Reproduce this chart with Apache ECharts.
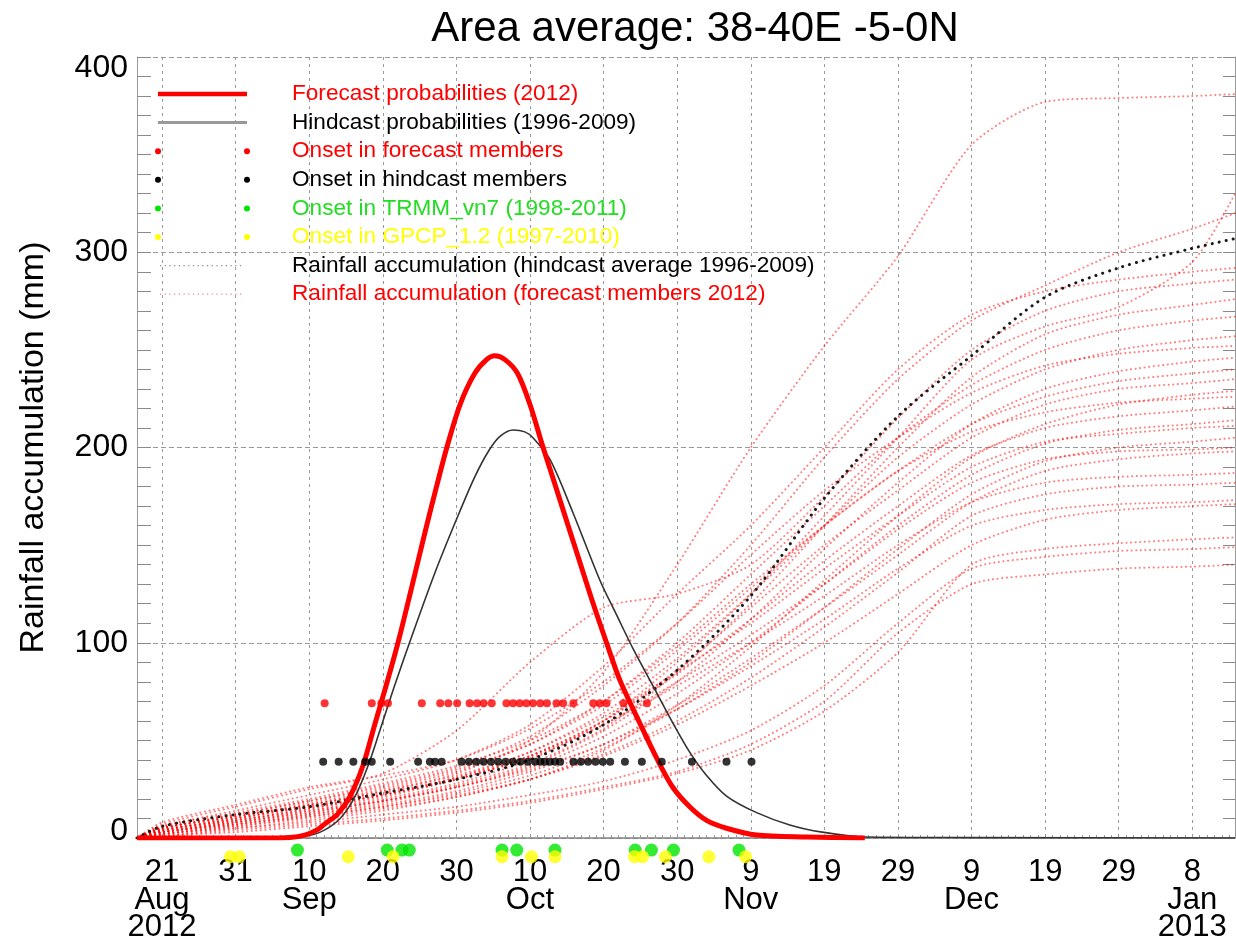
<!DOCTYPE html>
<html>
<head>
<meta charset="utf-8">
<script src="https://cdn.jsdelivr.net/npm/echarts@6/dist/echarts.min.js"></script>
<style>
html,body{margin:0;padding:0;background:#fff;}
#chart{width:1236px;height:945px;}
</style>
</head>
<body>
<div id="chart"></div>
<script>
// ---------------- DATA (x = days since 2012-08-21) ----------------
const xMin = -3.4, xMax = 145.8;
const tickDays = [0, 10, 20, 30, 40, 50, 60, 70, 80, 90, 100, 110, 120, 130, 140];
const tickLabels = ['21\nAug\n2012', '31', '10\nSep', '20', '30', '10\nOct', '20', '30',
                    '9\nNov', '19', '29', '9\nDec', '19', '29', '8\nJan\n2013'];

const forecastProbDays = [-3.4, 13.3, 17.4, 19.4, 21.0, 22.4, 23.8, 25.5, 27.3, 28.9, 30.6, 32.2, 33.9, 35.7, 37.3, 38.7,
  40.5, 42.5, 44.1, 45.2, 46.6, 48.3, 50.0, 51.7, 53.4, 55.1, 56.8, 58.5, 60.4, 62.2, 64.9, 67.2, 69.4, 71.7, 74.0, 76.7, 80.8, 87.6, 95.5];
const forecastProbValues = [0, 0, 0.3, 1.5, 4, 8, 12, 21, 37, 58, 80, 102, 128, 156, 180, 200,
  222, 238, 245, 247, 245, 238, 222, 201, 181, 161, 141, 121, 100, 81, 59, 41, 26, 16, 9, 5, 1.5, 0.5, 0];

const hindcastProbDays = [-3.4, 16.0, 18.7, 21.5, 24.2, 26.2, 28.0, 29.6, 31.6, 34.1, 37.1, 40.1, 42.5, 44.5, 46.0, 47.7,
  49.3, 50.4, 52.7, 55.8, 59.5, 61.8, 64.0, 66.7, 69.4, 71.7, 74.0, 76.7, 80.8, 85.3, 89.7, 95.5, 110, 145.8];
const hindcastProbValues = [0, 0.2, 0.5, 3, 10, 21, 37, 55, 78, 105, 136, 164, 185, 199, 206, 209,
  208, 205, 194, 167, 132, 114, 97, 78, 59, 44, 32, 21.5, 13, 6.7, 3, 0.5, 0.2, 0];

const accumDays = [-3.4, 0, 10, 20, 30, 40, 50, 60, 70, 80, 90, 100, 110, 120, 130, 140, 145.8];
const hindcastAccum = [0, 6, 12, 16, 23, 30, 40, 58, 86, 124, 174, 216, 247, 277, 292, 302, 307];

const forecastMembers = [
  [0, 4, 10, 17, 24, 33, 50, 85, 140, 200, 252, 298, 355, 377, 379, 380, 381],
  [0, 3, 8, 14, 20, 28, 40, 60, 90, 125, 165, 205, 245, 262, 272, 295, 330],
  [0, 5, 12, 19, 27, 36, 52, 78, 110, 150, 195, 235, 265, 283, 300, 312, 320],
  [0, 6, 14, 22, 30, 40, 58, 88, 125, 160, 200, 240, 268, 280, 286, 290, 292],
  [0, 7, 16, 25, 33, 55, 90, 118, 125, 140, 175, 215, 250, 270, 280, 284, 286],
  [0, 3, 8, 13, 19, 27, 38, 56, 85, 120, 160, 200, 236, 258, 268, 273, 276],
  [0, 5, 11, 18, 25, 34, 48, 70, 100, 135, 170, 205, 232, 250, 260, 265, 267],
  [0, 4, 9, 15, 22, 31, 44, 64, 92, 125, 160, 195, 222, 240, 250, 255, 257],
  [0, 8, 17, 26, 32, 40, 56, 80, 110, 145, 178, 205, 228, 242, 248, 251, 252],
  [0, 2, 7, 12, 18, 26, 37, 55, 80, 112, 148, 182, 212, 230, 239, 244, 246],
  [0, 5, 12, 19, 26, 35, 48, 68, 96, 128, 160, 188, 212, 226, 234, 238, 240],
  [0, 3, 9, 15, 21, 30, 42, 60, 86, 118, 150, 178, 205, 222, 230, 233, 235],
  [0, 1, 5, 9, 14, 21, 30, 45, 68, 98, 132, 165, 195, 212, 222, 227, 229],
  [0, 6, 13, 20, 28, 37, 50, 70, 98, 130, 160, 188, 208, 218, 223, 225, 226],
  [0, 4, 10, 16, 22, 30, 42, 60, 84, 112, 142, 170, 196, 210, 216, 219, 221],
  [0, 3, 8, 13, 19, 26, 36, 52, 74, 100, 130, 160, 186, 202, 209, 212, 214],
  [0, 5, 11, 17, 24, 32, 44, 62, 85, 110, 138, 165, 190, 203, 207, 210, 211],
  [0, 2, 6, 11, 16, 23, 32, 46, 66, 90, 118, 148, 176, 193, 200, 203, 205],
  [0, 4, 10, 16, 22, 30, 41, 58, 80, 104, 130, 158, 182, 194, 198, 199, 200],
  [0, 3, 7, 12, 17, 24, 34, 48, 68, 92, 118, 145, 172, 188, 194, 197, 198],
  [0, 5, 11, 17, 23, 31, 42, 58, 78, 100, 124, 150, 172, 182, 185, 186, 187],
  [0, 2, 6, 10, 15, 21, 30, 43, 60, 82, 108, 136, 165, 176, 180, 181, 182],
  [0, 4, 9, 14, 19, 26, 35, 48, 66, 88, 112, 138, 160, 168, 171, 172, 173],
  [0, 3, 7, 11, 16, 22, 30, 42, 58, 78, 100, 125, 150, 163, 168, 170, 171],
  [0, 1, 3, 6, 9, 13, 18, 25, 33, 45, 65, 95, 140, 148, 151, 153, 154],
  [0, 2, 5, 8, 12, 16, 22, 29, 40, 55, 78, 110, 138, 144, 147, 148, 149],
  [0, 1, 4, 7, 10, 14, 19, 26, 34, 48, 70, 105, 130, 135, 138, 139, 140]
];

const onsetForecastLevel = 69;
const onsetForecastDays = [22.1, 28.5, 29.8, 30.7, 35.3, 37.8, 38.9, 40.1, 41.8, 42.8, 43.7, 44.8, 46.8, 47.7, 48.6,
  49.5, 50.4, 51.4, 52.3, 53.6, 54.5, 55.9, 58.6, 59.5, 60.4, 62.7, 65.9];
const onsetHindcastLevel = 39;
const onsetHindcastDays = [21.9, 24.0, 26.0, 27.6, 28.5, 31.0, 34.8, 36.4, 37.1, 38.0, 40.7, 41.7, 42.7, 43.7, 44.7,
  45.7, 46.7, 47.7, 48.7, 49.7, 50.7, 51.4, 52.0, 52.7, 53.4, 54.1, 55.9, 56.9, 57.9, 58.9, 59.9, 60.9, 62.9, 65.2,
  67.9, 72.0, 76.7, 80.1];
const onsetTrmmLevel = -6.2;
const onsetTrmmDays = [18.4, 30.6, 32.6, 33.6, 46.2, 48.2, 53.4, 64.3, 66.5, 69.5, 78.4];
const onsetGpcpLevel = -9.6;
const onsetGpcpDays = [9.3, 10.5, 25.3, 31.4, 46.2, 50.2, 53.4, 64.2, 65.3, 68.4, 74.3, 79.3];

const legendLabels = [
  'Forecast probabilities (2012)',
  'Hindcast probabilities (1996-2009)',
  'Onset in forecast members',
  'Onset in hindcast members',
  'Onset in TRMM_vn7 (1998-2011)',
  'Onset in GPCP_1.2 (1997-2010)',
  'Rainfall accumulation (hindcast average 1996-2009)',
  'Rainfall accumulation (forecast members 2012)'
];

// ---------------- STYLE ----------------
const FONT = 'Liberation Sans, Arial, Helvetica, sans-serif';
const RED = '#ff0000';
const GREEN = '#00e600';
const YELLOW = '#ffff00';
const GRID_COLOR = '#9a9a9a';

const pairs = (xs, ys) => xs.map((x, i) => [x, ys[i]]);
const row = (xs, level) => xs.map(x => [x, level]);

const dailyTicks = [];
for (let d = Math.ceil(xMin); d <= Math.floor(xMax); d++) dailyTicks.push(d);

const series = [];
forecastMembers.forEach((m, k) => {
  series.push({
    name: 'member' + k, type: 'line', data: pairs(accumDays, m),
    symbol: 'none', smooth: 0.25, silent: true, z: 2,
    lineStyle: { color: 'rgba(255,0,0,0.5)', width: 2, type: [0.1, 4.5], cap: 'round' }
  });
});
series.push({
  name: 'hindcastAccum', type: 'line', data: pairs(accumDays, hindcastAccum),
  symbol: 'none', smooth: 0.3, z: 3,
  lineStyle: { color: '#1a1a1a', width: 3, type: [0.1, 7], cap: 'round' }
});
series.push({
  name: 'hindcastProb', type: 'line', data: pairs(hindcastProbDays, hindcastProbValues),
  symbol: 'none', smooth: 0.3, z: 4,
  lineStyle: { color: '#333', width: 1.6 }
});
series.push({
  name: 'forecastProb', type: 'line', data: pairs(forecastProbDays, forecastProbValues),
  symbol: 'none', smooth: 0.3, z: 5,
  lineStyle: { color: RED, width: 5, join: 'round' }
});
series.push({
  name: 'onsetForecast', type: 'scatter', data: row(onsetForecastDays, onsetForecastLevel),
  symbol: 'circle', symbolSize: 8, itemStyle: { color: RED }, z: 6, clip: false
});
series.push({
  name: 'onsetHindcast', type: 'scatter', data: row(onsetHindcastDays, onsetHindcastLevel),
  symbol: 'circle', symbolSize: 8, itemStyle: { color: '#000' }, z: 6, clip: false
});
series.push({
  name: 'onsetTrmm', type: 'scatter', data: row(onsetTrmmDays, onsetTrmmLevel),
  symbol: 'circle', symbolSize: 13, itemStyle: { color: GREEN }, z: 7, clip: false
});
series.push({
  name: 'onsetGpcp', type: 'scatter', data: row(onsetGpcpDays, onsetGpcpLevel),
  symbol: 'circle', symbolSize: 13, itemStyle: { color: YELLOW }, z: 8, clip: false
});

// ---------------- LEGEND (graphic) ----------------
const legendKinds = [
  { kind: 'line', stroke: RED, width: 4.5, text: RED },
  { kind: 'line', stroke: '#999', width: 3, text: '#000' },
  { kind: 'dots', fill: RED, text: RED },
  { kind: 'dots', fill: '#000', text: '#000' },
  { kind: 'dots', fill: GREEN, text: '#22dd22' },
  { kind: 'dots', fill: YELLOW, text: '#ffff00' },
  { kind: 'dotted', stroke: '#888', text: '#000' },
  { kind: 'dotted', stroke: 'rgba(255,70,70,0.7)', text: RED }
];
const graphics = [];
const LX1 = 158, LX2 = 247, LTX = 292, LY0 = 94, LDY = 28.6;
legendLabels.forEach((label, i) => {
  const y = LY0 + i * LDY;
  const k = legendKinds[i];
  if (k.kind === 'line') {
    graphics.push({ type: 'line', shape: { x1: LX1, y1: y, x2: LX2, y2: y }, style: { stroke: k.stroke, lineWidth: k.width }, z: 100 });
  } else if (k.kind === 'dots') {
    graphics.push({ type: 'circle', shape: { cx: LX1, cy: y, r: 3 }, style: { fill: k.fill }, z: 100 });
    graphics.push({ type: 'circle', shape: { cx: LX2, cy: y, r: 3 }, style: { fill: k.fill }, z: 100 });
  } else {
    graphics.push({ type: 'line', shape: { x1: LX1 + 2, y1: y, x2: LX2 - 3, y2: y }, style: { stroke: k.stroke, lineWidth: 1.2, lineDash: [1.2, 3.5] }, z: 100 });
  }
  graphics.push({
    type: 'text', x: LTX, y: y, z: 100,
    style: { text: label, fill: k.text, font: '22.6px ' + FONT, textVerticalAlign: 'middle', textAlign: 'left' }
  });
});

const yLabelStyle = { color: '#000', fontFamily: FONT, fontSize: 32 };

// ---------------- OPTION ----------------
const option = {
  animation: false,
  backgroundColor: '#fff',
  title: {
    text: 'Area average: 38-40E -5-0N',
    left: 690, top: 3, textAlign: 'center',
    textStyle: { fontFamily: FONT, fontSize: 42, fontWeight: 'normal', color: '#000' }
  },
  grid: { left: 137, right: 1, top: 57, bottom: 107, containLabel: false, outerBoundsMode: 'none' },
  xAxis: [{
    type: 'value', min: xMin, max: xMax, position: 'bottom',
    axisLine: { show: true, onZero: false, lineStyle: { color: '#808080', width: 1.5 } },
    axisTick: { show: false, customValues: tickDays },
    axisLabel: {
      customValues: tickDays, color: '#000', fontFamily: FONT, fontSize: 31, lineHeight: 27.5, margin: 21,
      formatter: v => { const i = tickDays.indexOf(Math.round(v)); return i >= 0 ? tickLabels[i] : ''; }
    },
    splitLine: { show: true, lineStyle: { color: GRID_COLOR, width: 1, type: [3, 4] } }
  }, {
    type: 'value', min: xMin, max: xMax, position: 'bottom',
    axisLine: { show: false },
    axisTick: { show: true, inside: true, length: 3, customValues: dailyTicks, lineStyle: { color: '#999', width: 1 } },
    axisLabel: { show: false }, splitLine: { show: false }
  }],
  yAxis: [{
    type: 'value', min: 0, max: 400, interval: 100, position: 'left',
    axisLine: { show: true, onZero: false, lineStyle: { color: '#9a9a9a', width: 1 } },
    axisTick: { show: true, inside: true, length: 14, lineStyle: { color: '#8a8a8a', width: 1 } },
    minorTick: { show: true, splitNumber: 10, length: 14, lineStyle: { color: '#8a8a8a', width: 1 } },
    axisLabel: {
      color: '#000', fontFamily: FONT, fontSize: 32, margin: 9,
      formatter: v => v === 400 ? '{top|400}' : (v === 0 ? '{bot|0}' : String(v)),
      rich: {
        top: Object.assign({ padding: [22, 0, 0, 0] }, yLabelStyle),
        bot: Object.assign({ padding: [0, 0, 14, 0] }, yLabelStyle)
      }
    },
    splitLine: { show: true, lineStyle: { color: GRID_COLOR, width: 1, type: [5, 3] } },
    name: 'Rainfall accumulation (mm)', nameLocation: 'middle', nameGap: 86,
    nameTextStyle: { color: '#000', fontFamily: FONT, fontSize: 34 }
  }, {
    type: 'value', min: 0, max: 400, interval: 100, position: 'right',
    axisLine: { show: true, onZero: false, lineStyle: { color: '#9a9a9a', width: 1 } },
    axisTick: { show: true, inside: true, length: 12, lineStyle: { color: '#8a8a8a', width: 1 } },
    minorTick: { show: true, splitNumber: 10, length: 12, lineStyle: { color: '#8a8a8a', width: 1 } },
    axisLabel: { show: false }, splitLine: { show: false }
  }],
  graphic: graphics,
  series: series
};

const chart = echarts.init(document.getElementById('chart'), null, { renderer: 'canvas' });
chart.setOption(option);
</script>
</body>
</html>
